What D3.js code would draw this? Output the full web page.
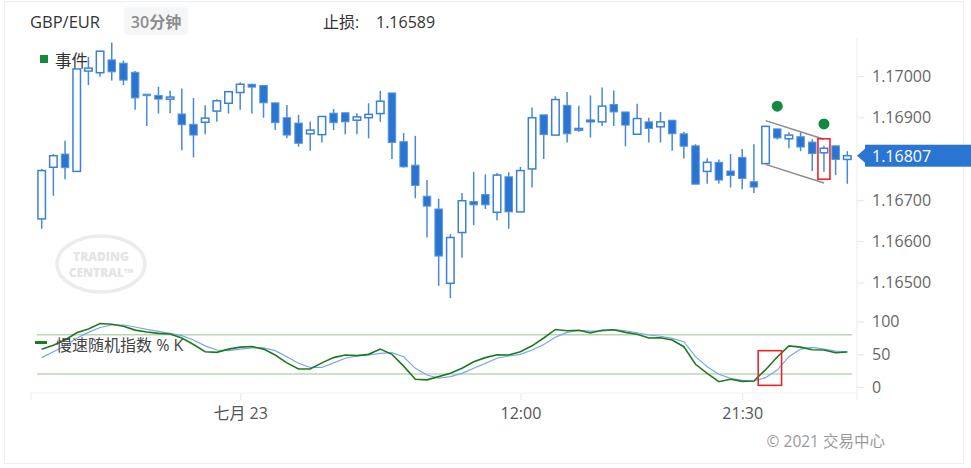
<!DOCTYPE html>
<html><head><meta charset="utf-8">
<script src="https://cdn.jsdelivr.net/npm/d3@7"></script>
<style>
body{margin:0;background:#fff;}
svg{display:block;font-family:"Open Sans","Noto Sans CJK SC",sans-serif;}
</style></head><body>
<svg id="c" width="971" height="468"></svg>
<script>
const times = [
"07-22 15:30","07-22 16:00","07-22 16:30","07-22 17:00","07-22 17:30","07-22 18:00","07-22 18:30","07-22 19:00","07-22 19:30","07-22 20:00",
"07-22 20:30","07-22 21:00","07-22 21:30","07-22 22:00","07-22 22:30","07-22 23:00","07-22 23:30",
"07-23 00:00","07-23 00:30","07-23 01:00","07-23 01:30","07-23 02:00","07-23 02:30","07-23 03:00","07-23 03:30","07-23 04:00","07-23 04:30",
"07-23 05:00","07-23 05:30","07-23 06:00","07-23 06:30","07-23 07:00","07-23 07:30","07-23 08:00","07-23 08:30","07-23 09:00","07-23 09:30",
"07-23 10:00","07-23 10:30","07-23 11:00","07-23 11:30","07-23 12:00","07-23 12:30","07-23 13:00","07-23 13:30","07-23 14:00","07-23 14:30",
"07-23 15:00","07-23 15:30","07-23 16:00","07-23 16:30","07-23 17:00","07-23 17:30","07-23 18:00","07-23 18:30","07-23 19:00","07-23 19:30",
"07-23 20:00","07-23 20:30","07-23 21:00","07-23 21:30","07-23 22:00","07-23 22:30","07-23 23:00","07-23 23:30",
"07-24 00:00","07-24 00:30","07-24 01:00","07-24 01:30","07-24 02:00"];
const open = [1.16654,1.16779,1.16811,1.16769,1.17012,1.17008,1.17039,1.17031,1.17009,1.16956,
1.16953,1.16944,1.16908,1.16883,1.16888,1.16915,1.16934,1.16960,1.16980,1.16977,
1.16935,1.16899,1.16886,1.16860,1.16858,1.16910,1.16911,1.16893,1.16899,1.16909,
1.16959,1.16841,1.16784,1.16709,1.16678,1.16498,1.16621,1.16696,1.16713,1.16670,
1.16756,1.16671,1.16775,1.16906,1.16857,1.16929,1.16869,1.16891,1.16889,1.16931,
1.16913,1.16859,1.16889,1.16877,1.16893,1.16860,1.16831,1.16769,1.16791,1.16770,
1.16803,1.16744,1.16788,1.16872,1.16848,1.16853,1.16840,1.16814,1.16831,1.16798];
const high = [1.16775,1.16811,1.16843,1.17017,1.17046,1.17061,1.17081,1.17037,1.17012,1.16956,
1.16974,1.16964,1.16970,1.16947,1.16929,1.16944,1.16964,1.16985,1.16981,1.16977,
1.16935,1.16930,1.16906,1.16890,1.16903,1.16920,1.16911,1.16910,1.16934,1.16964,
1.16959,1.16862,1.16855,1.16748,1.16703,1.16617,1.16717,1.16768,1.16762,1.16765,
1.16767,1.16780,1.16924,1.16906,1.16951,1.16961,1.16928,1.16953,1.16972,1.16965,
1.16913,1.16933,1.16899,1.16913,1.16893,1.16865,1.16835,1.16801,1.16798,1.16811,
1.16823,1.16835,1.16880,1.16872,1.16864,1.16864,1.16847,1.16831,1.16831,1.16818];
const low = [1.16630,1.16710,1.16750,1.16769,1.16978,1.16998,1.16989,1.16978,1.16918,1.16879,
1.16909,1.16910,1.16820,1.16803,1.16859,1.16889,1.16909,1.16918,1.16909,1.16899,
1.16869,1.16849,1.16829,1.16819,1.16839,1.16869,1.16859,1.16859,1.16849,1.16889,
1.16799,1.16778,1.16704,1.16609,1.16492,1.16462,1.16560,1.16639,1.16678,1.16651,
1.16630,1.16671,1.16730,1.16799,1.16857,1.16839,1.16865,1.16851,1.16879,1.16879,
1.16830,1.16859,1.16839,1.16839,1.16819,1.16800,1.16738,1.16739,1.16740,1.16730,
1.16726,1.16717,1.16788,1.16846,1.16825,1.16818,1.16770,1.16768,1.16760,1.16739];
const close = [1.16771,1.16807,1.16778,1.17017,1.17019,1.17060,1.17010,1.16990,1.16947,1.16953,
1.16944,1.16949,1.16882,1.16857,1.16898,1.16940,1.16962,1.16980,1.16973,1.16935,
1.16887,1.16857,1.16837,1.16869,1.16902,1.16887,1.16889,1.16901,1.16907,1.16939,
1.16839,1.16780,1.16735,1.16685,1.16564,1.16609,1.16698,1.16688,1.16688,1.16760,
1.16671,1.16771,1.16899,1.16858,1.16943,1.16860,1.16873,1.16893,1.16927,1.16913,
1.16881,1.16897,1.16873,1.16889,1.16860,1.16830,1.16738,1.16791,1.16748,1.16759,
1.16752,1.16731,1.16878,1.16850,1.16857,1.16828,1.16812,1.16825,1.16798,1.16807];
const stochK = [57.7,64,72,83,88.7,97,96,93,87,84,82,81,75,65,54,53,58,61,62,58,
49,37,27.6,27.6,37,45,49,48,50,58,50,32,12,11,16,21,28.7,38.8,45,49.5,
49,54,63,75,88,86,86.7,82.6,86.7,87.6,83.6,80.6,75,75.4,72,61.7,34.8,21,8.3,12,
8.8,9.3,26.6,46,63,61,57,56.6,52.5,53.6];
const stochD = [45,54,63,74.5,83.6,91,94.8,94.8,91.8,88,85,82,78.5,72,63,56.6,55.6,58,60,60,
55.6,46.4,36.3,30,30,37,44,47.5,49,51.6,52.5,46.4,28.7,18.5,13.5,16,21,28.7,36.3,44,
47.5,50,56.6,65,76,83.6,86.7,85.6,85.6,87.6,86,83,79.5,77.6,74.5,69.3,46.4,31,19.5,13.4,
10.4,9.3,14.4,26,46.4,58,60.7,58,55,54];
const priceTicks = [1.165,1.166,1.167,1.169,1.170];
const oscTicks = [0,50,100];
const oscBands = [20,80];
const timeTickValues = ["07-23 00:00","07-23 12:00","07-23 21:30"];
const timeTickLabels = ["七月 23","12:00","21:30"];
const lastPrice = 1.16807;
const symbol = "GBP/EUR";
const period = "30分钟";
const stopLossLabel = "止损:";
const stopLoss = "1.16589";
const eventTimes = ["07-23 23:00","07-24 01:00"];
const eventPrices = [1.16927,1.16884];
const channelTimes = ["07-23 22:30","07-24 01:00"];
const channelUpper = [1.16892,1.16847];
const channelLower = [1.16786,1.16741];
const highlightTime = "07-24 01:00";
const highlightPrices = [1.16848,1.16750];
const oscHighlightTimes = ["07-23 22:00","07-23 23:00"];
const oscHighlightValues = [2.7,55.6];

const svg = d3.select("#c");
const BLUE = "#2a75d1";
const x = d3.scalePoint().domain(times).range([41.7, 847.3]);
const step = x.step();
const y = d3.scaleLinear().domain([1.165, 1.170]).range([282.5, 76]);
const yo = d3.scaleLinear().domain([0, 100]).range([387.1, 321.6]);

// frame
svg.append("rect").attr("x",4.5).attr("y",1.5).attr("width",959).attr("height",462)
  .attr("fill","none").attr("stroke","#eceef1").attr("stroke-width",1);

// header
svg.append("text").attr("x",30).attr("y",28).attr("font-size",16.5).attr("font-weight",500)
  .attr("fill","#333").text(symbol);
svg.append("rect").attr("x",124).attr("y",7).attr("width",64).attr("height",28).attr("rx",4)
  .attr("fill","#f5f6f7");
svg.append("text").attr("x",156).attr("y",28).attr("text-anchor","middle").attr("font-size",16)
  .attr("font-weight",600).attr("fill","#8c8c8c").text(period);
svg.append("text").attr("x",323).attr("y",28).attr("font-size",16).attr("fill","#333").text(stopLossLabel);
svg.append("text").attr("x",376).attr("y",28).attr("font-size",16).attr("fill","#333").text(stopLoss);

// watermark
const wm = svg.append("g").attr("transform","translate(101,264)");
wm.append("ellipse").attr("rx",44).attr("ry",28).attr("fill","none").attr("stroke","#ececec").attr("stroke-width",3.5);
wm.append("text").attr("y",-3).attr("text-anchor","middle").attr("font-size",12).attr("font-weight",800)
  .attr("fill","#e4e4e4").text("TRADING");
wm.append("text").attr("y",13).attr("text-anchor","middle").attr("font-size",12).attr("font-weight",800)
  .attr("fill","#e4e4e4").text("CENTRAL™");

// axes lines
svg.append("line").attr("x1",857).attr("x2",857).attr("y1",38).attr("y2",400).attr("stroke","#ececec");
svg.append("line").attr("x1",31).attr("x2",857).attr("y1",393).attr("y2",393).attr("stroke","#f0f0f0");
svg.append("line").attr("x1",31).attr("x2",31).attr("y1",393).attr("y2",400).attr("stroke","#ececec");

// price axis
const pa = svg.append("g").attr("transform","translate(857,0)")
  .call(d3.axisRight(y).tickValues(priceTicks).tickFormat(d3.format(".5f")).tickSize(7).tickPadding(8));
pa.select(".domain").remove();
pa.selectAll("line").attr("stroke","#e6e6e6");
pa.selectAll("text").attr("font-size",16).attr("fill","#666").attr("font-family","'Open Sans',sans-serif");

// osc axis
const oa = svg.append("g").attr("transform","translate(857,0)")
  .call(d3.axisRight(yo).tickValues(oscTicks).tickSize(7).tickPadding(8));
oa.select(".domain").remove();
oa.selectAll("line").attr("stroke","#e6e6e6");
oa.selectAll("text").attr("font-size",16).attr("fill","#666").attr("font-family","'Open Sans',sans-serif");

// time axis
const ta = svg.append("g").attr("transform","translate(0,393)")
  .call(d3.axisBottom(x).tickValues(timeTickValues).tickFormat((d,i)=>timeTickLabels[i]).tickSize(7).tickPadding(8));
ta.select(".domain").remove();
ta.selectAll("line").attr("stroke","#e6e6e6");
ta.selectAll("text").attr("font-size",16).attr("fill","#555").attr("font-family","'Open Sans','Noto Sans CJK SC',sans-serif");

// event legend
svg.append("rect").attr("x",40).attr("y",55).attr("width",8).attr("height",8).attr("fill","#138a3e");
svg.append("text").attr("x",55).attr("y",67).attr("font-size",16.5).attr("fill","#333").text("事件");

// candles
const idx = d3.range(times.length);
const cg = svg.append("g");
cg.selectAll("line.w").data(idx).join("line").attr("class","w")
  .attr("x1",i=>x(times[i])).attr("x2",i=>x(times[i]))
  .attr("y1",i=>y(high[i])).attr("y2",i=>y(low[i]))
  .attr("stroke",BLUE).attr("stroke-width",1.5).attr("opacity",0.85);
const bw = 7.5;
cg.selectAll("rect.b").data(idx).join("rect").attr("class","b")
  .attr("x",i=>x(times[i])-bw/2).attr("width",bw)
  .attr("y",i=>y(Math.max(open[i],close[i])))
  .attr("height",i=>Math.max(1.5, Math.abs(y(open[i])-y(close[i]))))
  .attr("fill",i=>close[i]>=open[i]?"#fff":BLUE)
  .attr("stroke",i=>close[i]>=open[i]?"#3b80d6":"#5b95dd")
  .attr("stroke-width",i=>close[i]>=open[i]?1.5:1);

// channel lines
svg.append("line").attr("x1",x(channelTimes[0])).attr("x2",x(channelTimes[1]))
  .attr("y1",y(channelUpper[0])).attr("y2",y(channelUpper[1])).attr("stroke","#8a8a8a").attr("stroke-width",1.5);
svg.append("line").attr("x1",x(channelTimes[0])).attr("x2",x(channelTimes[1]))
  .attr("y1",y(channelLower[0])).attr("y2",y(channelLower[1])).attr("stroke","#8a8a8a").attr("stroke-width",1.5);

// highlight box
svg.append("rect").attr("x",x(highlightTime)-6).attr("width",12)
  .attr("y",y(highlightPrices[0])).attr("height",y(highlightPrices[1])-y(highlightPrices[0]))
  .attr("fill","none").attr("stroke","#e8262b").attr("stroke-width",1.6);

// events
svg.selectAll("circle.ev").data(d3.range(eventTimes.length)).join("circle").attr("class","ev")
  .attr("cx",i=>x(eventTimes[i])).attr("cy",i=>y(eventPrices[i])).attr("r",5.5).attr("fill","#138a3e");

// last price
const ly = y(lastPrice);
svg.append("path").attr("d",`M857,${ly} L865,${ly-7} L865,${ly+7} Z`).attr("fill",BLUE);
svg.append("rect").attr("x",865).attr("y",ly-11).attr("width",106).attr("height",22).attr("fill",BLUE);
svg.append("text").attr("x",872).attr("y",ly+6).attr("font-size",16).attr("fill","#fff").text(d3.format(".5f")(lastPrice));

// oscillator bands
svg.selectAll("line.band").data(oscBands).join("line").attr("class","band")
  .attr("x1",37).attr("x2",852).attr("y1",d=>yo(d)).attr("y2",d=>yo(d))
  .attr("stroke","#b9d6b4").attr("stroke-width",1.5);

const lineGen = arr => d3.line().x((d,i)=>x(times[i])).y(d=>yo(d))(arr);
svg.append("path").attr("d",lineGen(stochD)).attr("fill","none").attr("stroke","#76a7e8").attr("stroke-width",1.2);
svg.append("path").attr("d",lineGen(stochK)).attr("fill","none").attr("stroke","#1f7a1f").attr("stroke-width",1.6);

// osc highlight
const ox0 = x(oscHighlightTimes[0]) + step*0.37, ox1 = x(oscHighlightTimes[1]) + step*0.37;
svg.append("rect").attr("x",ox0).attr("width",ox1-ox0)
  .attr("y",yo(oscHighlightValues[1])).attr("height",yo(oscHighlightValues[0])-yo(oscHighlightValues[1]))
  .attr("fill","none").attr("stroke","#e8262b").attr("stroke-width",1.6);

// osc legend
svg.append("rect").attr("x",35).attr("y",341).attr("width",12).attr("height",3).attr("fill","#1f7a1f");
svg.append("text").attr("x",56).attr("y",351).attr("font-size",16).attr("fill","#444").text("慢速随机指数 % K");

// footer
svg.append("text").attr("x",885).attr("y",447).attr("text-anchor","end").attr("font-size",15.5)
  .attr("fill","#999").text("© 2021 交易中心");
</script>
</body></html>
